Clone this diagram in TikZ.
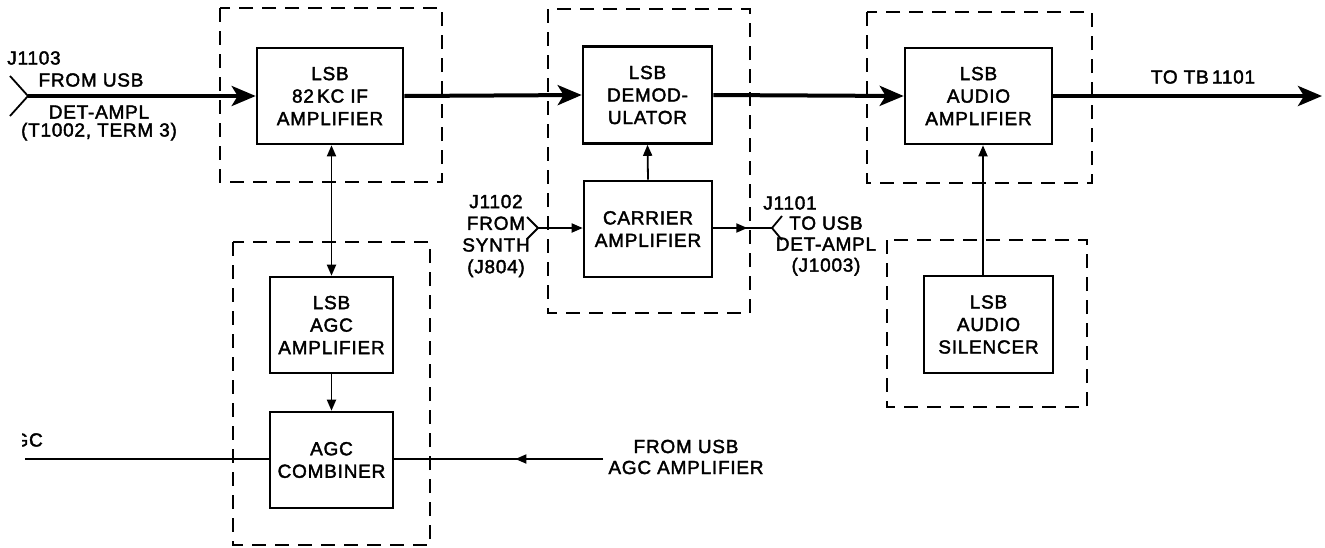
\documentclass[tikz,border=0pt]{standalone}
\usepackage{fontspec}
\setmainfont{Liberation Sans}[LetterSpace=4,FakeBold=2]
\usetikzlibrary{arrows.meta,decorations.markings}
\begin{document}
\begin{tikzpicture}[x=1pt,y=-1pt,
  every node/.style={font=\fontsize{19}{22.5}\selectfont, inner sep=0pt},
  blk/.style={draw, line width=2.6pt, align=center},
  lbl/.style={align=center},
  grp/.style={line width=1.6pt, dash pattern=on 14pt off 9pt},
  bus/.style={line width=4pt},
  sig/.style={line width=1.8pt},
  bigtip/.style={-{Stealth[length=24pt,width=20pt,inset=6pt]}},
  tip/.style={-{Triangle[length=11pt,width=9pt]}},
  midtip/.style={postaction={decorate},decoration={markings,
     mark=at position #1 with {\arrow{Triangle[length=11pt,width=9pt]}}}},
]
\useasboundingbox (0,0) rectangle (1325,547);

% group frames
\draw[grp] (220,8) rectangle (442,182);
\draw[grp] (548,9) rectangle (750,313);
\draw[grp] (867,12) rectangle (1092,183);
\draw[grp] (887,240) rectangle (1087,407);
\draw[grp] (233,242) rectangle (430,545);

% blocks
\node[blk, minimum width=146pt, minimum height=96pt] (ifa) at (330,96) {LSB\\82\,KC IF\\AMPLIFIER};
\node[blk, minimum width=129pt, minimum height=97pt] (dem) at (647.5,95) {LSB\\DEMOD-\\ULATOR};
\node[blk, minimum width=128pt, minimum height=96pt] (car) at (648,229) {CARRIER\\AMPLIFIER};
\node[blk, minimum width=147pt, minimum height=96pt] (aud) at (978.5,96) {LSB\\AUDIO\\AMPLIFIER};
\node[blk, minimum width=129pt, minimum height=97pt] (sil) at (988.5,324.5) {LSB\\AUDIO\\SILENCER};
\node[blk, minimum width=123pt, minimum height=96pt] (agc) at (331.5,325) {LSB\\AGC\\AMPLIFIER};
\node[blk, minimum width=123pt, minimum height=96pt] (comb) at (331.5,460) {AGC\\COMBINER};

% main signal path
\coordinate (in) at (28,96);
\draw[sig] (10,76) -- (in) -- (10,116);
\draw[bus, bigtip] (in) -- (ifa.west);
\draw[bus, bigtip] (ifa.east) -- (dem.west);
\draw[bus, bigtip] (dem.east) -- (aud.west);
\coordinate (out) at (1322,96);
\draw[bus, bigtip] (aud.east) -- (out);

% carrier
\draw[sig, tip] (car.north) -- (dem.south);
\coordinate (j2) at (538,228);
\draw[sig] (527,217) -- (j2) -- (527,239);
\draw[sig, tip] (j2) -- (j2 -| car.west);
\coordinate (j1) at (772,228);
\draw[sig] (782,216) -- (j1) -- (782,240);
\draw[sig, midtip=0.58] (j1 -| car.east) -- (j1);

% agc
\draw[sig, {Triangle[length=11pt,width=9pt]}-{Triangle[length=11pt,width=9pt]}] (agc.north |- ifa.south) -- (agc.north);
\draw[sig, tip] (agc.south) -- (comb.north);
\coordinate (fu) at (603,459);
\draw[sig, midtip=0.42] (fu) -- (fu -| comb.east);
\coordinate (agcout) at (25,459);
\draw[line width=2.2pt] (agcout -| comb.west) -- (agcout);

% silencer
\coordinate (xs) at (983,0);
\draw[sig, tip] (sil.north -| xs) -- (aud.south -| xs);

% labels
\node (lj1103) at (34,58) {J1103};
\node (lfrom) at (91,80) {FROM USB};
\node[lbl, font=\fontsize{19}{18}\selectfont] (ldet) at (99,123) {DET-AMPL\\(T1002, TERM 3)};
\node (lto) at (1203,77) {TO TB\,1101};
\node[lbl, font=\fontsize{19}{21.7}\selectfont] (lj1102) at (496,236) {J1102\\FROM\\SYNTH\\(J804)};
\node (lj1101) at (790,203) {J1101};
\node[lbl, font=\fontsize{19}{21}\selectfont] (lusb) at (826,246) {TO USB\\DET-AMPL\\(J1003)};
\node[lbl, font=\fontsize{19}{21}\selectfont] (lfu) at (686,457) {FROM USB\\AGC AMPLIFIER};
\begin{scope}
\clip (22,0) rectangle (1325,547);
\node[anchor=east] (lagc) at (43,440) {AGC};
\end{scope}
\end{tikzpicture}
\end{document}
